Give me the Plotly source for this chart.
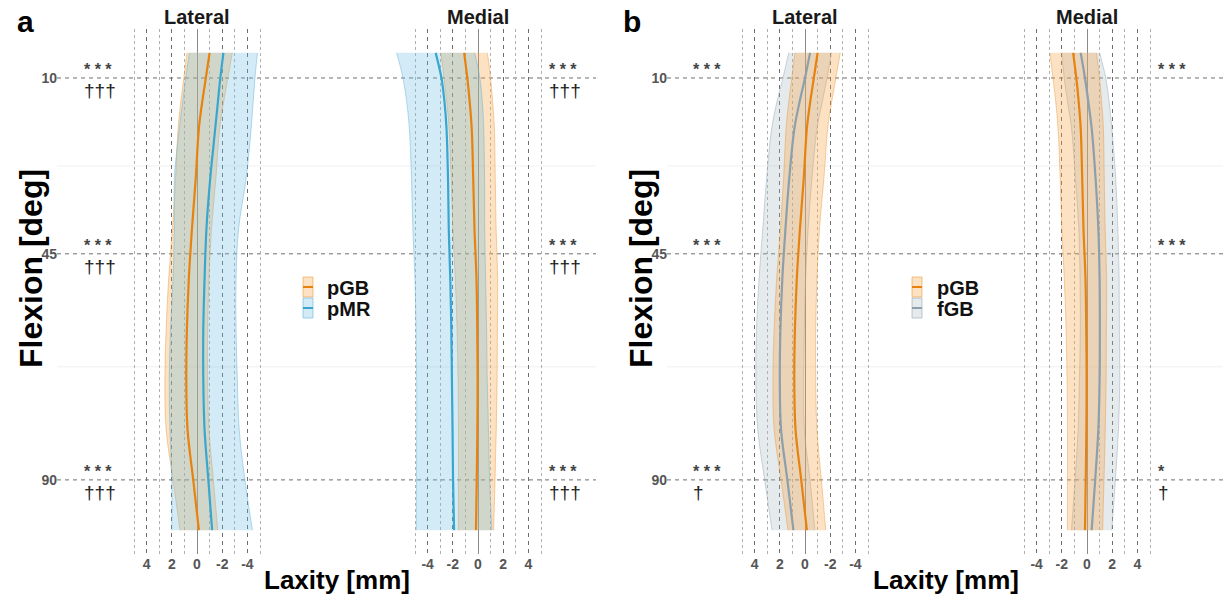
import plotly.graph_objects as go

# ---------------- data ----------------
flexion = [5, 10, 15, 20, 30, 40, 50, 60, 70, 80, 90, 100]

# pGB (same group in panel a and b)
pgb_lat_mean = [-1.0, -0.7, -0.4, -0.15, 0.1, 0.4, 0.65, 0.8, 0.85, 0.75, 0.3, -0.15]
pgb_lat_sd   = [1.8, 1.75, 1.7, 1.65, 1.6, 1.55, 1.6, 1.65, 1.7, 1.7, 1.6, 1.5]
pgb_med_mean = [-1.1, -0.85, -0.65, -0.5, -0.38, -0.28, -0.12, -0.06, -0.03, -0.05, -0.1, -0.16]
pgb_med_sd   = [1.85, 1.85, 1.82, 1.8, 1.75, 1.72, 1.68, 1.6, 1.55, 1.5, 1.45, 1.4]

# pMR (panel a)
pmr_lat_mean = [-2.1, -1.85, -1.65, -1.45, -1.05, -0.75, -0.6, -0.5, -0.5, -0.6, -0.9, -1.2]
pmr_lat_sd   = [2.7, 2.75, 2.8, 2.85, 2.85, 2.55, 2.5, 2.6, 2.7, 2.75, 2.9, 3.2]
pmr_med_mean = [-3.36, -2.9, -2.65, -2.5, -2.38, -2.32, -2.2, -2.12, -2.07, -2.02, -1.98, -1.9]
pmr_med_sd   = [3.1, 3.05, 3.0, 2.95, 2.9, 2.85, 2.8, 2.8, 2.8, 2.85, 2.9, 3.0]

# fGB (panel b)
fgb_lat_mean = [-0.4, 0.0, 0.45, 0.84, 1.25, 1.55, 1.8, 1.95, 2.0, 1.9, 1.4, 0.92]
fgb_lat_sd   = [1.7, 1.75, 1.8, 1.8, 1.8, 1.8, 1.85, 1.9, 1.9, 1.85, 1.8, 1.7]
fgb_med_mean = [-0.5, -0.16, 0.12, 0.37, 0.68, 0.9, 1.0, 1.02, 1.0, 0.9, 0.65, 0.37]
fgb_med_sd   = [1.5, 1.65, 1.65, 1.6, 1.6, 1.55, 1.55, 1.55, 1.6, 1.6, 1.6, 1.6]

y_ticks = [10, 45, 90]
x_ticks = [-4, -2, 0, 2, 4]
x_minor = [-5, -3, -1, 1, 3, 5]

# significance labels: (flexion, asterisks, daggers)
sig_a_left  = [(10, "* * *", "†††"), (45, "* * *", "†††"), (90, "* * *", "†††")]
sig_a_right = [(10, "* * *", "†††"), (45, "* * *", "†††"), (90, "* * *", "†††")]
sig_b_left  = [(10, "* * *", ""), (45, "* * *", ""), (90, "* * *", "†")]
sig_b_right = [(10, "* * *", ""), (45, "* * *", ""), (90, "*", "†")]

# ---------------- style ----------------
W, H = 1223, 598
FONT = "Liberation Sans, Arial, sans-serif"
C_OR = "#E8820E"
C_BL = "#39A6CF"
C_GR = "#8C9FAA"
F_OR = "rgba(245,165,70,0.33)"
F_BL = "rgba(110,190,225,0.30)"
F_GR = "rgba(160,178,190,0.28)"
E_OR = "rgba(235,150,50,0.55)"
E_BL = "rgba(100,180,215,0.6)"
E_GR = "rgba(150,168,180,0.6)"

def px(x):
    return x / W

def py(y):
    return 1 - y / H

SCALE = 12.6
HALF = 7.0
zero_px = {"x": 197, "x2": 478, "x3": 805, "x4": 1087}

fig = go.Figure()

def band(mean, sd, fill, edge, xa, ya):
    up = [m + s for m, s in zip(mean, sd)]
    lo = [m - s for m, s in zip(mean, sd)]
    fig.add_trace(go.Scatter(x=lo, y=flexion, mode="lines",
                             line=dict(color=edge, width=0.8, shape="spline"),
                             xaxis=xa, yaxis=ya, hoverinfo="skip", showlegend=False))
    fig.add_trace(go.Scatter(x=up, y=flexion, mode="lines", fill="tonextx",
                             fillcolor=fill, line=dict(color=edge, width=0.8, shape="spline"),
                             xaxis=xa, yaxis=ya, hoverinfo="skip", showlegend=False))

def mline(mean, color, xa, ya):
    fig.add_trace(go.Scatter(x=mean, y=flexion, mode="lines",
                             line=dict(color=color, width=2.2, shape="spline"),
                             xaxis=xa, yaxis=ya, showlegend=False))

# panel a
band(pgb_lat_mean, pgb_lat_sd, F_OR, E_OR, "x", "y")
band(pmr_lat_mean, pmr_lat_sd, F_BL, E_BL, "x", "y")
mline(pgb_lat_mean, C_OR, "x", "y")
mline(pmr_lat_mean, C_BL, "x", "y")
band(pgb_med_mean, pgb_med_sd, F_OR, E_OR, "x2", "y")
band(pmr_med_mean, pmr_med_sd, F_BL, E_BL, "x2", "y")
mline(pgb_med_mean, C_OR, "x2", "y")
mline(pmr_med_mean, C_BL, "x2", "y")
# panel b
band(fgb_lat_mean, fgb_lat_sd, F_GR, E_GR, "x3", "y2")
band(pgb_lat_mean, pgb_lat_sd, F_OR, E_OR, "x3", "y2")
mline(pgb_lat_mean, C_OR, "x3", "y2")
mline(fgb_lat_mean, C_GR, "x3", "y2")
band(fgb_med_mean, fgb_med_sd, F_GR, E_GR, "x4", "y2")
band(pgb_med_mean, pgb_med_sd, F_OR, E_OR, "x4", "y2")
mline(pgb_med_mean, C_OR, "x4", "y2")
mline(fgb_med_mean, C_GR, "x4", "y2")

tick_font = dict(family=FONT, size=14, color="#555555")

def xaxis_cfg(name, reversed_, anchor):
    z = zero_px[name]
    dom = [px(z - HALF * SCALE), px(z + HALF * SCALE)]
    rng = [HALF, -HALF] if reversed_ else [-HALF, HALF]
    return dict(domain=dom, range=rng, anchor=anchor,
                tickmode="array", tickvals=x_ticks,
                ticktext=["<b>%d</b>" % v for v in x_ticks],
                tickfont=tick_font, ticks="", showline=False,
                showgrid=True, gridcolor="#6e6e6e", griddash="4px,4px", gridwidth=1,
                zeroline=True, zerolinecolor="#8a8a8a", zerolinewidth=1.2,
                minor=dict(tickmode="array", tickvals=x_minor, showgrid=True,
                           gridcolor="#b0b0b0", griddash="dot", gridwidth=1, ticks=""),
                fixedrange=True)

ydom = [py(554), py(29)]
def yaxis_cfg(pos):
    return dict(domain=ydom, range=[104.75, 0.25], anchor="free", position=pos,
                tickmode="array", tickvals=y_ticks,
                ticktext=["<b>%d</b>" % v for v in y_ticks],
                tickfont=tick_font, ticks="", showline=False, showgrid=False,
                zeroline=False, fixedrange=True)

fig.update_layout(
    width=W, height=H, margin=dict(l=0, r=0, t=0, b=0),
    paper_bgcolor="white", plot_bgcolor="rgba(0,0,0,0)",
    showlegend=False,
    xaxis=xaxis_cfg("x", True, "y"),
    xaxis2=xaxis_cfg("x2", False, "y"),
    xaxis3=xaxis_cfg("x3", True, "y2"),
    xaxis4=xaxis_cfg("x4", False, "y2"),
    yaxis=yaxis_cfg(px(57)),
    yaxis2=yaxis_cfg(px(667)),
)

shapes = []
# faint minor horizontal grid
for yv in [27.5, 67.5]:
    for (a, b, yr) in [(57, 596, "y"), (667, 1223, "y2")]:
        shapes.append(dict(type="line", xref="paper", yref=yr, x0=px(a), x1=px(b), y0=yv, y1=yv,
                           line=dict(color="#f0f0f0", width=1), layer="below"))
# dashed major horizontal lines
for yv in y_ticks:
    for (a, b, yr) in [(57, 596, "y"), (667, 1223, "y2")]:
        shapes.append(dict(type="line", xref="paper", yref=yr, x0=px(a), x1=px(b), y0=yv, y1=yv,
                           line=dict(color="#6e6e6e", width=1, dash="4px,4px"), layer="below"))

# legend keys (manual)
def legend_key(x0, y0, fill, edge, color):
    shapes.append(dict(type="rect", xref="paper", yref="paper", x0=px(x0), x1=px(x0 + 10),
                       y0=py(y0 + 20), y1=py(y0), fillcolor=fill, line=dict(color=edge, width=1)))
    shapes.append(dict(type="line", xref="paper", yref="paper", x0=px(x0), x1=px(x0 + 10),
                       y0=py(y0 + 10), y1=py(y0 + 10), line=dict(color=color, width=2)))

legend_key(303, 277, F_OR, E_OR, C_OR)
legend_key(303, 298, F_BL, E_BL, C_BL)
legend_key(912, 277, F_OR, E_OR, C_OR)
legend_key(912, 298, F_GR, E_GR, C_GR)

annotations = []
def txt(x, y, s, size, color="#111111", xanchor="center", yanchor="middle", angle=0, bold=True):
    annotations.append(dict(xref="paper", yref="paper", x=px(x), y=py(y),
                            text=("<b>%s</b>" % s) if bold else s, showarrow=False,
                            font=dict(family=FONT, size=size, color=color),
                            xanchor=xanchor, yanchor=yanchor, textangle=angle))

# panel letters
txt(25, 22, "a", 30, "#000000")
txt(632, 22, "b", 30, "#000000")
# facet titles
for cx, name in [(197, "Lateral"), (478, "Medial"), (805, "Lateral"), (1087, "Medial")]:
    txt(cx, 17, name, 20, "#1a1a1a")
# axis titles
txt(31, 269, "Flexion [deg]", 32, "#000000", angle=-90)
txt(641, 269, "Flexion [deg]", 32, "#000000", angle=-90)
txt(337, 580, "Laxity [mm]", 26, "#000000")
txt(946, 580, "Laxity [mm]", 26, "#000000")
# legend texts
txt(325, 288, "pGB", 20, "#111111", xanchor="left")
txt(325, 309, "pMR", 20, "#111111", xanchor="left")
txt(935, 288, "pGB", 20, "#111111", xanchor="left")
txt(935, 309, "fGB", 20, "#111111", xanchor="left")

# significance marks
def sig(items, xleft, yref):
    for fl, ast, dag in items:
        if ast:
            annotations.append(dict(xref="paper", yref=yref, x=px(xleft), y=fl, yshift=8,
                                    text="<b>%s</b>" % ast, showarrow=False, xanchor="left", yanchor="middle",
                                    font=dict(family=FONT, size=16, color="#444444")))
        if dag:
            annotations.append(dict(xref="paper", yref=yref, x=px(xleft), y=fl, yshift=-13,
                                    text=dag, showarrow=False, xanchor="left", yanchor="middle",
                                    font=dict(family=FONT, size=19, color="#222222")))

sig(sig_a_left, 82, "y")
sig(sig_a_right, 547, "y")
sig(sig_b_left, 691, "y2")
sig(sig_b_right, 1156, "y2")

fig.update_layout(shapes=shapes, annotations=annotations)
fig.write_html("out.html", config={"displayModeBar": False},
               post_script="document.body.style.margin='0';document.body.style.overflow='hidden';")
